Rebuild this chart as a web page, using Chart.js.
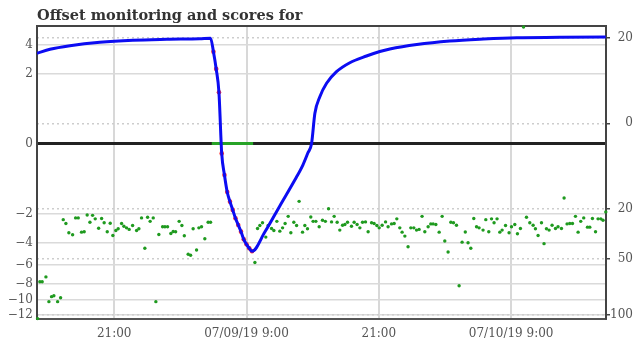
<!DOCTYPE html>
<html lang="en">
<head>
<meta charset="UTF-8">
<title>Offset monitoring and scores</title>
<script src="https://cdn.jsdelivr.net/npm/chart.js"></script>
<style>
    body { margin: 0; background: #fff; }
    canvas { display: block; }
</style>
</head>
<body>
<canvas id="offsetChart" width="637" height="345"></canvas>
<script>
    // x values are hours counted from 07/08/19 00:00
    const offsetHours = [14.0, 15.18, 16.99, 19.70, 22.70, 25.78, 28.77, 29.74,
        30.0, 30.25, 30.5, 30.75, 31.0, 31.25, 31.5, 31.75, 32.0, 32.25, 32.5, 32.75, 33.0, 33.25, 33.5,
        34.66, 36.02, 37.38, 38.11, 38.56, 38.90, 39.20, 39.65, 40.26, 41.16, 42.37, 43.88,
        45.09, 46.00, 48.44, 51.44, 54.49, 57.51, 61.41, 65.58];
    const offsetValues = [3.32, 3.62, 3.90, 4.18, 4.35, 4.43, 4.48, 4.52,
        3.44, 2.27, 1.07, -0.04, -0.405, -0.96, -1.38, -1.80, -2.28, -2.71, -3.17, -3.75, -4.15, -4.48, -4.74,
        -3.20, -1.59, -0.544, -0.189, -0.037, 0, 0.372, 0.894, 1.479, 2.104, 2.664, 3.125,
        3.454, 3.645, 4.0, 4.29, 4.457, 4.57, 4.60, 4.63];

    const scoreHours = [
        14.06, 14.26, 14.47, 14.81, 15.08, 15.32, 15.53, 15.87, 16.14, 16.38,
        16.62, 16.89, 17.23, 17.50, 17.74, 18.04, 18.28, 18.55, 18.80, 19.04,
        19.28, 19.59, 19.86, 20.09, 20.37, 20.64, 20.88, 21.15, 21.36, 21.67,
        21.88, 22.12, 22.36, 22.67, 23.03, 23.24, 23.48, 23.78, 24.03, 24.26,
        24.54, 24.78, 25.05, 25.39, 25.60, 25.84, 26.14, 26.35, 26.57, 26.89,
        27.14, 27.36, 27.71, 27.93, 28.16, 28.47, 28.68, 28.92, 29.22, 29.52,
        29.74, 33.76, 34.00, 34.21, 34.45, 34.75, 34.96, 35.27, 35.48, 35.75,
        36.02, 36.27, 36.50, 36.78, 37.02, 37.29, 37.54, 37.77, 38.08, 38.29,
        38.53, 38.83, 39.04, 39.29, 39.59, 39.89, 40.15, 40.44, 40.71, 40.95,
        41.22, 41.46, 41.71, 41.92, 42.16, 42.52, 42.76, 43.03, 43.28, 43.52,
        43.79, 44.03, 44.34, 44.57, 44.82, 45.03, 45.30, 45.61, 45.84, 46.15,
        46.39, 46.63, 46.90, 47.11, 47.36, 47.65, 47.90, 48.17, 48.42, 48.65,
        48.92, 49.17, 49.47, 49.71, 49.92, 50.17, 50.47, 50.74, 50.98, 51.28,
        51.53, 51.77, 52.04, 52.28, 52.55, 52.84, 53.09, 53.34, 53.61, 53.86,
        54.09, 54.45, 54.70, 54.97, 55.22, 55.45, 55.72, 55.97, 56.18, 56.49,
        56.81, 57.03, 57.33, 57.57, 57.84, 58.12, 58.39, 58.69, 58.99, 59.20,
        59.44, 59.75, 59.98, 60.20, 60.44, 60.71, 61.02, 61.25, 61.56, 61.80,
        62.07, 62.31, 62.56, 62.83, 63.07, 63.31, 63.58, 63.92, 64.13, 64.37,
        64.65, 64.88, 65.13, 65.33, 65.58];
    const scoreValues = [
        104, 68.5, 68.5, 64.3, 86.7, 81.9, 81.0, 86.7, 82.9, 25.3,
        27.4, 32.7, 33.9, 24.4, 24.4, 32.3, 32.1, 22.9, 26.7, 23.1,
        24.9, 30.0, 24.7, 27.0, 32.1, 27.2, 34.3, 31.3, 30.3, 27.4,
        28.9, 29.8, 30.7, 28.5, 31.3, 30.3, 24.4, 42.6, 24.1, 26.2,
        24.4, 86.7, 33.7, 29.2, 29.2, 29.2, 33.1, 31.9, 32.1, 26.2,
        28.5, 34.5, 46.8, 47.5, 30.3, 43.8, 29.8, 29.2, 36.3, 26.7,
        26.7, 52.8, 30.2, 28.5, 27.0, 35.3, 28.5, 30.2, 31.3, 26.2,
        31.7, 29.8, 27.4, 23.6, 32.7, 26.7, 28.5, 16.6, 32.3, 28.5,
        30.3, 23.9, 26.2, 26.2, 29.2, 25.6, 26.2, 19.9, 26.5, 23.6,
        26.7, 31.1, 28.3, 27.9, 26.7, 28.9, 26.7, 27.9, 29.8, 26.7,
        26.5, 32.1, 27.0, 27.4, 28.5, 29.8, 28.3, 26.5, 29.2, 27.6,
        27.4, 24.9, 29.8, 32.3, 34.7, 41.5, 29.8, 29.8, 31.1, 30.7,
        23.6, 32.1, 29.2, 27.6, 27.6, 27.9, 32.3, 23.6, 37.8, 45.2,
        26.7, 27.0, 28.3, 71.9, 38.5, 32.2, 38.9, 42.6, 24.7, 29.2,
        29.8, 31.1, 25.3, 32.1, 24.9, 27.0, 24.9, 32.3, 31.1, 28.5,
        32.7, 29.2, 27.9, 33.3, 30.2, -25.3, 24.1, 27.0, 28.3, 30.3,
        34.3, 27.0, 39.5, 30.3, 31.1, 28.3, 30.2, 29.2, 30.2, 15.2,
        27.6, 27.4, 27.4, 23.6, 32.3, 26.2, 24.4, 29.4, 29.4, 24.7,
        32.1, 24.9, 24.9, 25.6, 21.4];

    // scores sitting on the zero line while the offset drops
    const zeroHours = [29.85, 33.6];
    const zeroValues = [0, 0];

    const leftTicks = [4, 2, 0, -2, -4, -6, -8, -10, -12];
    const rightTicks = [-20, 0, 20, 50, 100];
    const xTicks = [21, 33, 45, 57];
    const xTickLabels = ['21:00', '07/09/19 9:00', '21:00', '07/10/19 9:00'];

    const LinearScale = Chart.LinearScale || Chart.registry.getScale('linear');

    // signed square-root axis, both y axes in the picture are drawn like this
    class SqrtScale extends LinearScale {
        tf(v) { return Math.sign(v) * Math.sqrt(Math.abs(v)); }
        getPixelForValue(value) {
            if (value === null || value === undefined || isNaN(value)) return NaN;
            const a = this.tf(this.min), b = this.tf(this.max);
            return this.getPixelForDecimal((this.tf(value) - a) / (b - a));
        }
        getValueForPixel(pixel) {
            const a = this.tf(this.min), b = this.tf(this.max);
            const t = a + this.getDecimalForPixel(pixel) * (b - a);
            return Math.sign(t) * t * t;
        }
    }
    SqrtScale.id = 'sqrt';
    SqrtScale.defaults = {};
    Chart.register(SqrtScale);

    const toPoints = (xs, ys) => xs.map((x, i) => ({ x: x, y: ys[i] }));
    const dropPoints = toPoints(offsetHours, offsetValues).filter(p => p.x > 29.9 && p.x < 33.6);

    const tickFont = { family: 'DejaVu Serif', size: 12 };

    // top edge of the plot frame
    const frame = {
        id: 'frame',
        beforeDatasetsDraw(chart) {
            const { ctx, chartArea } = chart;
            ctx.save();
            ctx.strokeStyle = '#444';
            ctx.lineWidth = 2;
            ctx.beginPath();
            ctx.moveTo(chartArea.left, chartArea.top);
            ctx.lineTo(chartArea.right, chartArea.top);
            ctx.stroke();
            ctx.restore();
        }
    };

    new Chart(document.getElementById('offsetChart'), {
        type: 'line',
        data: {
            datasets: [{
                label: 'Offset',
                data: toPoints(offsetHours, offsetValues),
                yAxisID: 'y',
                borderColor: '#0c0cf2',
                borderWidth: 3,
                pointRadius: 0,
                cubicInterpolationMode: 'monotone',
                order: 1
            }, {
                label: 'Offset samples',
                data: dropPoints,
                yAxisID: 'y',
                showLine: false,
                pointRadius: 2.3,
                pointBorderWidth: 0,
                pointBackgroundColor: '#ff3030',
                order: 2
            }, {
                label: 'Scores at zero',
                data: toPoints(zeroHours, zeroValues),
                yAxisID: 'y',
                borderColor: '#27a327',
                borderWidth: 3,
                pointRadius: 0,
                order: 3
            }, {
                label: 'Scores',
                data: toPoints(scoreHours, scoreValues),
                yAxisID: 'y2',
                showLine: false,
                pointRadius: 1.7,
                pointBorderWidth: 0,
                pointBackgroundColor: '#1f9a1f',
                clip: false,
                order: 4
            }]
        },
        options: {
            responsive: false,
            animation: false,
            devicePixelRatio: 1,
            layout: { padding: { right: 4 } },
            plugins: {
                legend: { display: false },
                tooltip: { enabled: false },
                title: {
                    display: true,
                    text: 'Offset monitoring and scores for',
                    align: 'start',
                    fullSize: false,
                    color: '#333',
                    font: { family: 'DejaVu Serif', size: 14.5, weight: 'bold' },
                    padding: { top: 8, bottom: 0.6 }
                }
            },
            scales: {
                x: {
                    type: 'linear',
                    min: 14,
                    max: 65.6,
                    afterBuildTicks: s => { s.ticks = xTicks.map(v => ({ value: v })); },
                    afterFit: s => { s.height = 26; },
                    ticks: {
                        autoSkip: false,
                        maxRotation: 0,
                        padding: 8,
                        color: '#555',
                        font: tickFont,
                        callback: v => xTickLabels[xTicks.indexOf(v)]
                    },
                    grid: { color: '#d8d8d8', lineWidth: 2, drawTicks: false },
                    border: { color: '#555', width: 2 }
                },
                y: {
                    type: 'sqrt',
                    position: 'left',
                    min: -12.57,
                    max: 5.635,
                    afterBuildTicks: s => { s.ticks = leftTicks.map(v => ({ value: v })); },
                    afterFit: s => { s.width = 37; },
                    ticks: {
                        padding: 4,
                        color: '#555',
                        font: tickFont,
                        callback: v => v < 0 ? '\u2212' + (-v) : String(v)
                    },
                    grid: {
                        drawTicks: false,
                        color: c => c.tick && c.tick.value === 0 ? '#222' : '#dadada',
                        lineWidth: c => c.tick && c.tick.value === 0 ? 3 : 1.5
                    },
                    border: { color: '#444', width: 2 }
                },
                y2: {
                    type: 'sqrt',
                    position: 'right',
                    reverse: true,
                    min: -25.8,
                    max: 104.4,
                    afterBuildTicks: s => { s.ticks = rightTicks.map(v => ({ value: v })); },
                    afterFit: s => { s.width = 27; },
                    ticks: {
                        padding: 0,
                        crossAlign: 'far',
                        color: '#555',
                        font: tickFont,
                        callback: v => String(Math.abs(v))
                    },
                    grid: { color: '#cdcdcd', lineWidth: 1.5, tickLength: 4, tickColor: '#444', tickWidth: 1.5 },
                    border: { color: '#444', width: 2, dash: [2, 3] }
                }
            }
        },
        plugins: [frame]
    });
</script>
</body>
</html>
